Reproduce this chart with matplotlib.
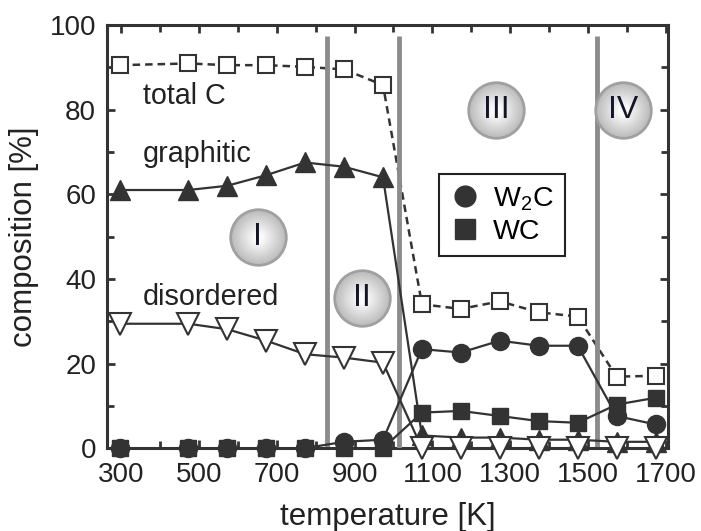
import numpy as np
import matplotlib
matplotlib.use("Agg")
import matplotlib.pyplot as plt

plt.rcParams['font.family'] = ['Liberation Sans', 'DejaVu Sans']

# temperatures [K]
temperature = [298, 473, 573, 673, 773, 873, 973, 1073, 1173, 1273, 1373, 1473, 1573, 1673]

# composition [%]
total_c = [90.5, 90.9, 90.5, 90.5, 90.1, 89.5, 85.8, 34.0, 32.9, 34.7, 32.1, 31.1, 16.9, 17.1]
graphitic = [61, 61, 62, 64.5, 67.5, 66.5, 64, 3, 2.5, 2.5, 2, 2, 1.5, 1.5]
disordered = [29.4, 29.4, 28.1, 25.4, 22.2, 21.4, 20.2, 0, 0, 0, 0, 0, 0, 0]
w2c = [0, 0, 0, 0, 0, 1.5, 2, 23.4, 22.6, 25.4, 24.2, 24.2, 7.6, 5.6]
wc = [0, 0, 0, 0, 0, 0, 0, 8.4, 8.8, 7.6, 6.4, 6.0, 10.3, 11.9]

# region borders and labels
borders = [830, 1015, 1523]
regions = ['I', 'II', 'III', 'IV']
region_x = [651, 918, 1264, 1590]
region_y = [49.8, 35.5, 80, 80]

dark = '#333333'

fig = plt.figure(figsize=(7.01, 5.31), dpi=100)
ax = fig.add_axes([0.153, 0.156, 0.800, 0.797])

ax.plot(temperature, total_c, '--', color=dark, lw=1.8, dashes=(3, 2),
        marker='s', ms=11, mfc='white', mec=dark, mew=1.5, clip_on=False, zorder=3)
ax.plot(temperature, graphitic, '-', color=dark, lw=1.6,
        marker='^', ms=15, mfc=dark, mec=dark, clip_on=False, zorder=4)
ax.plot(temperature, w2c, '-', color=dark, lw=1.6,
        marker='o', ms=13, mfc=dark, mec=dark, clip_on=False, zorder=4, label=r'W$_\mathregular{2}$C')
ax.plot(temperature, wc, '-', color=dark, lw=1.6,
        marker='s', ms=12, mfc=dark, mec=dark, clip_on=False, zorder=4, label='WC')
ax.plot(temperature, disordered, '-', color=dark, lw=1.6,
        marker='v', ms=16, mfc='white', mec=dark, mew=1.5, clip_on=False, zorder=5)

ax.vlines(borders, 0, 97.5, color='#8c8c8c', lw=3.5, zorder=3.5)

# gray badges with roman numerals
for x, y, txt in zip(region_x, region_y, regions):
    ax.plot(x, y, 'o', ms=41, mfc='#a0a0a0', mec='#a0a0a0', zorder=6)
    for i, s in enumerate(np.linspace(38, 8, 14)):
        c = 0.75 + 0.23 * i / 13
        ax.plot(x, y, 'o', ms=s, mfc=(c, c, c), mec='none', zorder=6)
    ax.text(x, y, txt, fontsize=23, ha='center', va='center', color='#15152a', zorder=7)

ax.text(356, 81.3, 'total C', fontsize=20.7, color='#222222', va='baseline')
ax.text(356, 67.6, 'graphitic', fontsize=20.7, color='#222222', va='baseline')
ax.text(356, 33.8, 'disordered', fontsize=20.7, color='#222222', va='baseline')

ax.set_xlim(265, 1705)
ax.set_ylim(0, 100)
ax.set_xticks([300, 500, 700, 900, 1100, 1300, 1500, 1700])
ax.set_xticks(np.arange(400, 1700, 200), minor=True)
ax.set_yticks([0, 20, 40, 60, 80, 100])
ax.set_yticks([10, 30, 50, 70, 90], minor=True)
ax.tick_params(which='both', direction='in', top=True, right=True,
               width=2, color=dark, labelsize=20, labelcolor='#222222')
ax.tick_params(which='major', length=6)
ax.tick_params(which='minor', length=5)
ax.tick_params(axis='x', pad=10)
ax.tick_params(axis='y', pad=8)
for sp in ax.spines.values():
    sp.set_linewidth(2.2)
    sp.set_color(dark)

ax.set_xlabel('temperature [K]', fontsize=22.5, color='#222222', labelpad=10)
ax.set_ylabel('composition [%]', fontsize=22.5, color='#222222', labelpad=8)

leg = ax.legend(loc='upper left', bbox_to_anchor=(0.592, 0.648), fontsize=20.5,
                frameon=True, fancybox=False, framealpha=1, edgecolor='#222222',
                handlelength=1.0, handletextpad=0.5, borderpad=0.4, borderaxespad=0,
                labelspacing=0.2, markerscale=1.15)
leg.get_frame().set_linewidth(1.5)
for h in leg.get_lines():
    h.set_linestyle('none')

fig.savefig('out.png', dpi=100)
